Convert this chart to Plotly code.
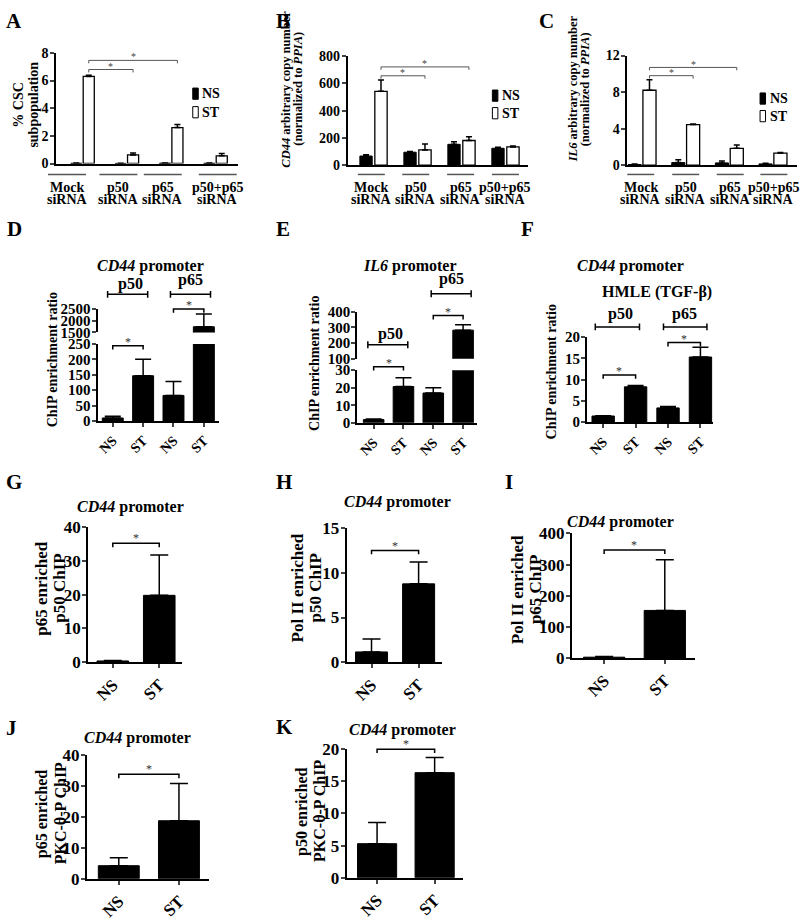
import plotly.graph_objects as go

W, H = 800, 921
SERIF = "Liberation Serif"

# ---------------- data ----------------
sirna_groups = ["Mock", "p50", "p65", "p50+p65"]
sirna_sub = "siRNA"
legend_labels = ["NS", "ST"]

A_ns = [0.02, 0.01, 0.03, 0.02]
A_ns_err = [0.01, 0.01, 0.01, 0.01]
A_st = [6.3, 0.62, 2.6, 0.56]
A_st_err = [0.08, 0.15, 0.22, 0.17]
A_ticks = [0, 2, 4, 6, 8]

B_ns = [67, 95, 153, 124]
B_ns_err = [9, 5, 19, 7]
B_st = [542, 112, 181, 134]
B_st_err = [83, 43, 27, 7]
B_ticks = [0, 200, 400, 600, 800]

C_ns = [0.07, 0.28, 0.25, 0.14]
C_ns_err = [0.07, 0.32, 0.21, 0.07]
C_st = [8.2, 4.45, 1.85, 1.32]
C_st_err = [1.15, 0.07, 0.35, 0.07]
C_ticks = [0, 4, 8, 12]

chip_cats = ["NS", "ST", "NS", "ST"]
chip_groups = ["p50", "p65"]

D_vals = [9.6, 147, 83, 1740]
D_err = [5.4, 54, 45, 550]
D_ticks_low = [0, 50, 100, 150, 200, 250]
D_ticks_high = [1500, 2000, 2500]

E_vals = [1.85, 20.7, 17, 282]
E_err = [0.35, 5, 3, 35]
E_ticks_low = [0, 10, 20, 30]
E_ticks_high = [100, 200, 300, 400]

F_vals = [1.45, 8.3, 3.35, 15.3]
F_err = [0.05, 0.3, 0.35, 2.3]
F_ticks = [0, 5, 10, 15, 20]

pair_cats = ["NS", "ST"]
G_vals = [0.4, 19.8]
G_err = [0.1, 11.9]
G_ticks = [0, 10, 20, 30, 40]
H_vals = [1.16, 8.76]
H_err = [1.44, 2.44]
H_ticks = [0, 5, 10, 15]
I_vals = [3, 153]
I_err = [2, 163]
I_ticks = [0, 100, 200, 300, 400]
J_vals = [4.2, 18.7]
J_err = [2.6, 12.0]
J_ticks = [0, 10, 20, 30, 40]
K_vals = [5.3, 16.35]
K_err = [3.3, 2.35]
K_ticks = [0, 5, 10, 15, 20]

# ---------------- helpers ----------------
layout = dict(width=W, height=H, margin=dict(l=0, r=0, t=0, b=0), autosize=False,
              paper_bgcolor="white", plot_bgcolor="white", showlegend=False,
              barmode="overlay", font=dict(family=SERIF, color="black"))
shapes, annots, traces = [], [], []


def fxp(p):
    return p / W


def fyp(p):
    return 1 - p / H


def aname(prefix, n):
    return prefix if n == 1 else f"{prefix}{n}"


class Panel:
    def __init__(self, n, xpx, ypx, xr, yr, xn=None):
        self.n, self.xpx, self.ypx, self.xr, self.yr = n, xpx, ypx, xr, yr
        self.xn = xn if xn else n

    def px(self, v):
        a, b = self.xr
        return self.xpx[0] + (v - a) / (b - a) * (self.xpx[1] - self.xpx[0])

    def py(self, v):
        a, b = self.yr
        return self.ypx[1] - (v - a) / (b - a) * (self.ypx[1] - self.ypx[0])

    @property
    def xa(self):
        return aname("x", self.xn)

    @property
    def ya(self):
        return aname("y", self.n)


def setup(p, yticks, yfont, xticks=None, xtext=None, xfont=15, xangle=0,
          show_x=True, lw=1.5, xticklen=0, ystandoff=-2):
    layout[aname("yaxis", p.n)] = dict(
        domain=[fyp(p.ypx[1]), fyp(p.ypx[0])], range=list(p.yr), anchor=p.xa,
        tickvals=yticks, ticks="outside", ticklen=4, tickwidth=lw, showline=True,
        linecolor="black", linewidth=lw, showgrid=False, zeroline=False,
        ticklabelstandoff=ystandoff,
        tickfont=dict(family=SERIF, size=yfont, color="black", weight="bold"))
    if show_x:
        layout[aname("xaxis", p.xn)] = dict(
            domain=[fxp(p.xpx[0]), fxp(p.xpx[1])], range=list(p.xr), anchor=p.ya,
            showline=True, linecolor="black", linewidth=lw, showgrid=False, zeroline=False,
            tickvals=xticks if xticks is not None else [],
            ticktext=xtext if xtext is not None else [],
            ticks="outside" if xticklen else "", ticklen=max(xticklen, 1), tickwidth=lw,
            tickangle=xangle,
            tickfont=dict(family=SERIF, size=xfont, color="black", weight="bold"))


def bars(p, xs, ys, errs, fill, width, cap, outline=1.0):
    traces.append(go.Bar(
        x=xs, y=ys, width=width, xaxis=p.xa, yaxis=p.ya,
        marker=dict(color=fill, line=dict(color="black", width=outline)),
        error_y=dict(type="data", array=errs, arrayminus=[0] * len(errs), symmetric=False,
                     color="black", thickness=1.5, width=cap),
        hoverinfo="skip"))


def text(t, xpx, ypx, size, bold=True, angle=0, color="black", xanchor="center",
         yanchor="middle"):
    annots.append(dict(text=f"<b>{t}</b>" if bold else t, x=fxp(xpx), y=fyp(ypx),
                       xref="paper", yref="paper", showarrow=False, textangle=angle,
                       xanchor=xanchor, yanchor=yanchor,
                       font=dict(family=SERIF, size=size, color=color)))


def path_shape(pts_list, color="black", lw=1.5):
    segs = []
    for pts in pts_list:
        segs.append("M " + " L ".join(f"{fxp(x):.5f},{fyp(y):.5f}" for x, y in pts))
    shapes.append(dict(type="path", xref="paper", yref="paper", path=" ".join(segs),
                       line=dict(color=color, width=lw)))


def bracket(p, x1, x2, yv, tick=4, color="black", lw=1.5, star=12, gap=4, star_color="#333"):
    X1, X2, Y = p.px(x1), p.px(x2), p.py(yv)
    path_shape([[(X1, Y + tick), (X1, Y), (X2, Y), (X2, Y + tick)]], color, lw)
    text("*", (X1 + X2) / 2, Y - gap, star, bold=False, color=star_color)


def span(p, x1, x2, ypx, cap=3.5, lw=1.5):
    X1, X2 = p.px(x1), p.px(x2)
    path_shape([[(X1, ypx - cap), (X1, ypx + cap)], [(X1, ypx), (X2, ypx)],
                [(X2, ypx - cap), (X2, ypx + cap)]], "black", lw)


def vtitle(lines, xs, cy, size):
    for ln, x in zip(lines, xs):
        text(ln, x, cy, size, angle=-90)


# ---------------- panels A-C ----------------
pA = Panel(1, (55, 237), (45, 158.3), (-0.6, 3.5), (0, 8))
pB = Panel(2, (347, 528), (48.3, 160), (-0.59, 3.52), (0, 800))
pC = Panel(3, (627, 797), (47.7, 160), (-0.34, 3.55), (0, 12))

siRNA_panels = [
    (pA, A_ns, A_ns_err, A_st, A_st_err, A_ticks, 0.14, 0.25, [-0.35, -0.19, -0.19, 0.05], 19,
     [(1, 6.8), (2, 7.46)], (192, 81, 19)),
    (pB, B_ns, B_ns_err, B_st, B_st_err, B_ticks, 0.17, 0.28, [-0.05, -0.04, -0.02, 0.0], 13.5,
     [(1, 656), (2, 721)], (492, 83, 18)),
    (pC, C_ns, C_ns_err, C_st, C_st_err, C_ticks, 0.17, 0.30, [-0.03, 0.0, 0.02, 0.02], 13.5,
     [(1, 9.8), (2, 10.7)], (760, 86, 18)),
]
for (p, ns, nse, st, ste, ticks, off, w, lshift, uhw, brs, leg) in siRNA_panels:
    setup(p, ticks, 14, ystandoff=-1)
    idx = list(range(len(sirna_groups)))
    bars(p, [i - off for i in idx], ns, nse, "black", w, 3)
    bars(p, [i + off for i in idx], st, ste, "white", w, 3, outline=1.3)
    for i, g in enumerate(sirna_groups):
        cx = p.px(i + lshift[i])
        path_shape([[(cx - uhw, 169.5), (cx + uhw, 169.5)]], "#555", 1.5)
        text(g, cx, 183, 14)
        text(sirna_sub, cx, 195.5, 14)
    for j, yv in brs:
        bracket(p, off, j + off, yv, tick=3, color="#555", lw=1, star=10, gap=3.5,
                star_color="#444")
    lx, ly, step = leg
    for k, (lab, fill) in enumerate(zip(legend_labels, ["black", "white"])):
        y0 = ly + k * step
        shapes.append(dict(type="rect", xref="paper", yref="paper",
                           x0=fxp(lx), x1=fxp(lx + 5.5), y0=fyp(y0 + 11.5), y1=fyp(y0),
                           fillcolor=fill, line=dict(color="black", width=1)))
        text(lab, lx + 7.5, y0 + 6, 14, xanchor="left")

vtitle(["% CSC", "subpopulation"], [18, 33], 98, 14)
vtitle(["<i>CD44</i> arbitrary copy number", "(normalized to <i>PPIA</i>)"], [285, 297], 82, 12.5)
vtitle(["<i>IL6</i> arbitrary copy number", "(normalized to <i>PPIA</i>)"], [573, 585], 82, 12.5)

# ---------------- panels D-F ----------------
x4 = [0, 1, 2, 3]
pD = Panel(4, (96.7, 218.3), (343.3, 422), (-0.5, 3.5), (0, 250))
pDh = Panel(5, (96.7, 218.3), (307.3, 331.3), (-0.5, 3.5), (1500, 2500), xn=4)
pE = Panel(6, (356.7, 476.7), (370, 424), (-0.55, 3.47), (0, 30))
pEh = Panel(7, (356.7, 476.7), (310, 358.3), (-0.55, 3.47), (100, 400), xn=6)
pF = Panel(8, (586.7, 713.3), (336, 423.3), (-0.5, 3.4), (0, 20))

for p, t in [(pD, D_ticks_low), (pE, E_ticks_low), (pF, F_ticks)]:
    setup(p, t, 15, xticks=x4, xtext=chip_cats, xfont=14, xangle=-45, lw=2, xticklen=4)
for p, t in [(pDh, D_ticks_high), (pEh, E_ticks_high)]:
    setup(p, t, 15, show_x=False, lw=2)

for p, v, e in [(pD, D_vals, D_err), (pDh, D_vals, D_err), (pE, E_vals, E_err),
                (pEh, E_vals, E_err), (pF, F_vals, F_err)]:
    bars(p, x4, v, e, "black", 0.69, 8)

bracket(pD, 0, 1, 245)
bracket(pDh, 2, 3, 2500)
bracket(pE, 0, 1, 32)
bracket(pEh, 2, 3, 375)
bracket(pF, 0, 1, 11.1)
bracket(pF, 2, 3, 18.7)

span(pD, -0.17, 1.15, 292.3)
span(pD, 1.9, 3.22, 292.3)
text(chip_groups[0], 130, 282, 16)
text(chip_groups[1], 190, 278, 16)
text("<i>CD44</i> promoter", 150, 263, 16)

span(pE, 1.93, 3.27, 291.7)
span(pE, -0.195, 1.145, 344)
text(chip_groups[1], 451, 277, 16)
text(chip_groups[0], 390, 333, 16)
text("<i>IL6</i> promoter", 410, 263, 16)

span(pF, -0.244, 1.12, 325.7)
span(pF, 1.86, 3.2, 325.7)
text(chip_groups[0], 620, 312, 16)
text(chip_groups[1], 684, 312, 16)
text("<i>CD44</i> promoter", 630, 263, 16)
text("HMLE (TGF-β)", 657, 290, 16)

vtitle(["ChIP enrichment ratio"], [51], 359, 14)
vtitle(["ChIP enrichment ratio"], [314], 363, 14)
vtitle(["ChIP enrichment ratio"], [551], 372, 14)

# ---------------- panels G-K ----------------
x2 = [0, 1]
pG = Panel(9, (87.3, 181.7), (530.7, 669.3), (-0.53, 1.5), (0, 40))
pH = Panel(10, (346, 441.7), (531.7, 669.3), (-0.53, 1.5), (0, 15))
pI = Panel(11, (571.7, 695), (537.3, 665), (-0.53, 1.5), (0, 400))
pJ = Panel(12, (86, 208.3), (764, 891), (-0.53, 1.5), (0, 40))
pK = Panel(13, (346, 463), (758.3, 890), (-0.53, 1.5), (0, 20))

for p, t, v, e, br in [(pG, G_ticks, G_vals, G_err, 35.2), (pH, H_ticks, H_vals, H_err, 12.5),
                       (pI, I_ticks, I_vals, I_err, 347), (pJ, J_ticks, J_vals, J_err, 33.7),
                       (pK, K_ticks, K_vals, K_err, 20)]:
    setup(p, t, 17, xticks=x2, xtext=pair_cats, xfont=17, xangle=-45, lw=2, xticklen=4)
    bars(p, x2, v, e, "black", 0.68, 9)
    bracket(p, 0, 1, br, gap=5)

text("<i>CD44</i> promoter", 130, 510, 16)
text("<i>CD44</i> promoter", 397, 505, 16)
text("<i>CD44</i> promoter", 620, 526, 16)
text("<i>CD44</i> promoter", 137, 747, 16)
text("<i>CD44</i> promoter", 402, 739, 16)

vtitle(["p65 enriched", "p50 ChIP"], [41, 59], 593, 17)
vtitle(["Pol II enriched", "p50 ChIP"], [297, 315], 593, 17)
vtitle(["Pol II enriched", "p65 ChIP"], [517, 535], 595, 17)
vtitle(["p65 enriched", "PKC-θ-P ChIP"], [41, 59], 824, 16)
vtitle(["p50 enriched", "PKC-θ-P ChIP"], [302, 319], 822, 16)

# ---------------- panel letters ----------------
for lab, x, y in [("A", 3, 12), ("B", 273, 12), ("C", 537, 12),
                  ("D", 4, 225), ("E", 273, 225), ("F", 519, 225),
                  ("G", 3, 485), ("H", 273, 485), ("I", 503, 485),
                  ("J", 3, 737), ("K", 273, 736)]:
    text(lab, x, y, 21, xanchor="left")

layout["shapes"] = shapes
layout["annotations"] = annots
fig = go.Figure(data=traces, layout=layout)
fig.write_html("out.html", config={"displayModeBar": False},
               post_script="document.body.style.margin='0px';document.body.style.padding='0px';")
